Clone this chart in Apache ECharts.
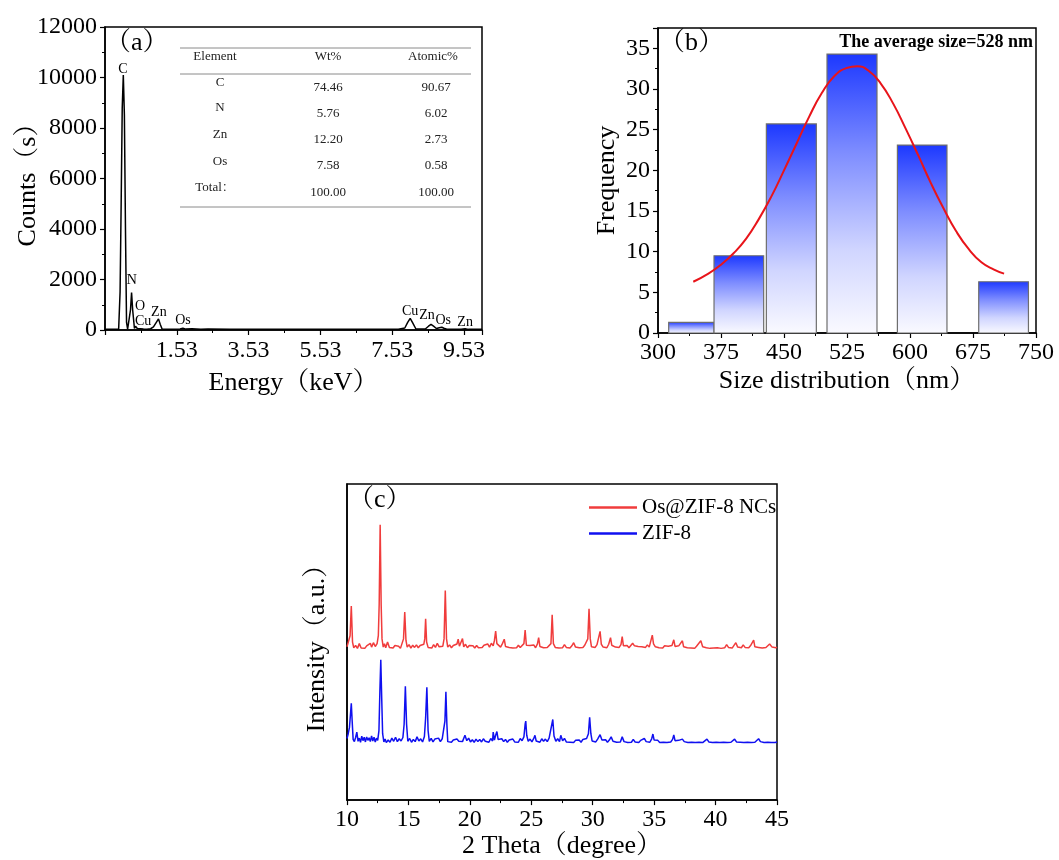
<!DOCTYPE html>
<html>
<head>
<meta charset="utf-8">
<script src="https://cdn.jsdelivr.net/npm/echarts@6/dist/echarts.min.js"></script>
<style>
html,body{margin:0;padding:0;background:#fff;}
#chart{width:1059px;height:860px;}
</style>
</head>
<body>
<div id="chart"></div>
<script>
// ---------------- DATA ----------------
// (a) EDS spectrum: [energy keV (as labelled on axis), counts]
const edsSpectrum = [
  [-0.45,30],[-0.2,25],[-0.09,30],[-0.05,1500],[-0.02,5000],[0.01,8800],[0.04,10100],[0.07,8500],[0.10,4000],[0.13,300],[0.16,30],
  [0.21,40],[0.24,800],[0.27,1480],[0.30,800],[0.35,60],[0.38,150],[0.43,60],[0.48,110],[0.52,50],[0.56,90],[0.60,40],[0.70,30],
  [0.80,50],[0.88,120],[0.95,280],[1.02,440],[1.07,220],[1.12,40],[1.3,30],[1.62,40],[1.70,70],[1.78,35],[1.95,45],[2.2,30],[2.4,35],
  [3.0,25],[4.0,25],[5.0,25],[6.0,25],[7.0,25],[7.7,30],[7.88,80],[7.96,300],[8.03,460],[8.10,280],[8.19,40],[8.45,40],[8.54,150],
  [8.61,220],[8.68,150],[8.76,60],[8.84,90],[8.91,110],[8.97,70],[9.05,30],[9.45,30],[9.56,50],[9.65,25],[10.03,25]
];
const edsAxisOffset = 0.47;          // axis tick labels read 1.53, 3.53, ...
const edsLabelNames  = ['C','N','O','Cu','Zn','Os','Cu','Zn','Os','Zn'];
const edsLabelEnergy = [0.03,0.28,0.505,0.59,1.03,1.70,8.03,8.50,8.95,9.56];
const edsLabelCounts = [10336,1980,950,356,713,396,752,594,396,317];

const tableHeader   = ['Element','Wt%','Atomic%'];
const tableElements = ['C','N','Zn','Os','Total：'];
const tableWt       = ['74.46','5.76','12.20','7.58','100.00'];
const tableAtomic   = ['90.67','6.02','2.73','0.58','100.00'];

// (b) size histogram
const binStart = [312.7,366.7,429,501.2,585,681.8];
const binEnd   = [366.7,425.8,488.5,560.7,644,741];
const binFreq  = [1.3,9.5,25.7,34.3,23.1,6.3];
const fitCurve = [
  [342,6.3],[360,7.3],[375,8.4],[390,9.8],[405,11.6],[420,14.0],[435,16.8],[450,20.0],[465,23.3],[480,26.6],[495,29.5],
  [510,31.6],[525,32.6],[537,32.8],[550,32.3],[565,30.7],[580,28.2],[595,25.1],[610,21.8],[625,18.4],[640,15.3],[655,12.5],
  [670,10.3],[685,8.7],[700,7.8],[712,7.3]
];
const averageText = 'The average size=528 nm';

// (c) XRD patterns [2theta, intensity a.u.]
const xrdOsZif = [
  [10.0,48.5],[10.15,49.0],[10.25,52],[10.35,61.4],[10.45,50],[10.55,48.2],[10.7,48.9],[10.85,48.0],[11.0,49.5],[11.15,48.1],[11.3,48.7],[11.45,48.0],[11.6,48.8],[11.75,48.2],[11.9,49.6],[12.0,48.4],[12.15,49.8],[12.3,48.6],[12.45,49.5],[12.55,52],[12.62,62],[12.7,87.1],[12.78,62],[12.85,51],[12.95,48.4],[13.05,49.5],[13.15,48.2],[13.3,50.0],[13.45,48.3],[13.6,48.8],[13.75,48.1],[13.9,48.9],[14.05,48.3],[14.2,48.7],[14.35,48.0],[14.5,48.6],[14.6,51],[14.7,59.5],[14.8,50.5],[14.9,48.4],[15.05,49.2],[15.2,48.1],[15.35,49.0],[15.5,48.3],[15.65,49.1],[15.8,48.2],[15.95,48.9],[16.1,48.4],[16.25,49.3],[16.33,51],[16.4,57.4],[16.48,50],[16.6,48.3],[16.75,48.9],[16.9,48.1],[17.05,49.2],[17.2,48.3],[17.35,49.6],[17.5,48.5],[17.65,49.0],[17.8,48.7],[17.9,51],[18.0,66.3],[18.1,51],[18.2,48.4],[18.35,49.1],[18.5,48.2],[18.65,48.9],[18.8,48.3],[18.95,49.4],[19.05,50.9],[19.15,48.7],[19.3,49.0],[19.4,51.1],[19.5,48.5],[19.65,49.3],[19.8,48.2],[19.95,48.9],[20.1,48.3],[20.25,48.8],[20.4,48.1],[20.55,48.9],[20.7,48.2],[20.85,48.7],[21.0,48.3],[21.15,49.0],[21.3,48.5],[21.45,49.4],[21.6,48.4],[21.75,49.6],[21.9,48.8],[22.0,50.5],[22.1,53.5],[22.2,49.5],[22.35,49.8],[22.5,48.4],[22.65,49.5],[22.8,50.9],[22.9,48.6],[23.05,49.1],[23.2,48.3],[23.35,48.8],[23.5,48.1],[23.65,48.7],[23.8,48.2],[23.95,49.0],[24.1,48.3],[24.25,48.8],[24.4,49.5],[24.5,53.8],[24.6,49],[24.75,48.4],[24.9,48.9],[25.05,48.3],[25.2,49.1],[25.35,48.2],[25.5,49.4],[25.6,51.4],[25.7,48.6],[25.85,48.9],[26.0,48.2],[26.15,48.8],[26.3,48.3],[26.45,48.9],[26.6,49.5],[26.7,58.6],[26.8,49.5],[26.95,48.3],[27.1,48.9],[27.25,48.1],[27.4,48.7],[27.55,48.2],[27.7,49.2],[27.85,48.3],[28.0,48.7],[28.15,48.1],[28.3,48.8],[28.45,49.8],[28.6,48.4],[28.75,48.9],[28.9,48.2],[29.05,48.8],[29.2,48.3],[29.35,49.0],[29.5,48.7],[29.6,51],[29.7,60.5],[29.8,51],[29.9,48.5],[30.05,49.0],[30.2,48.3],[30.35,49.2],[30.5,49.5],[30.6,53.4],[30.7,49.3],[30.85,48.4],[31.0,48.9],[31.15,48.2],[31.3,49.3],[31.45,51.4],[31.55,49.0],[31.7,49.6],[31.85,48.4],[32.0,49.0],[32.15,48.3],[32.3,49.2],[32.4,51.7],[32.5,48.8],[32.65,48.4],[32.8,48.9],[32.95,48.2],[33.1,48.7],[33.25,49.6],[33.4,48.8],[33.55,49.4],[33.7,48.6],[33.85,49.2],[34.0,48.5],[34.15,48.9],[34.3,48.3],[34.45,49.1],[34.6,48.4],[34.75,49.0],[34.85,52.2],[34.95,49.4],[35.1,48.5],[35.25,48.9],[35.4,48.2],[35.55,48.7],[35.7,48.1],[35.85,48.8],[36.0,48.3],[36.15,48.7],[36.3,48.2],[36.45,48.9],[36.6,50.7],[36.7,48.6],[36.85,48.3],[37.0,48.8],[37.15,48.2],[37.3,50.4],[37.4,48.5],[37.55,48.9],[37.7,48.2],[37.85,48.7],[38.0,48.1],[38.15,48.6],[38.3,48.0],[38.45,48.7],[38.6,48.3],[38.8,50.4],[38.95,48.5],[39.1,48.9],[39.25,48.2],[39.4,48.6],[39.55,48.0],[39.7,48.5],[39.85,48.1],[40.0,48.7],[40.15,48.2],[40.3,48.6],[40.45,48.0],[40.6,48.5],[40.75,48.2],[40.9,49.2],[41.05,48.3],[41.2,48.7],[41.35,48.1],[41.5,48.6],[41.65,49.8],[41.8,48.4],[41.95,48.8],[42.1,48.2],[42.25,49.1],[42.4,48.3],[42.55,48.8],[42.7,48.2],[42.85,48.9],[43.0,49.2],[43.1,50.6],[43.2,48.5],[43.35,49.0],[43.5,48.3],[43.65,48.7],[43.8,48.1],[43.95,48.6],[44.1,48.3],[44.25,48.9],[44.4,49.4],[44.5,50.0],[44.6,48.4],[44.75,48.7],[44.9,48.2],[45.0,48.4]
];
const xrdZif = [
  [10.0,19.5],[10.1,21.0],[10.2,23],[10.3,28],[10.35,30.6],[10.42,25],[10.5,19.2],[10.6,18.5],[10.7,19.8],[10.8,21.5],[10.9,18.6],[11.0,19.6],[11.1,18.3],[11.2,20.2],[11.3,18.8],[11.4,19.9],[11.5,18.4],[11.6,20.0],[11.7,18.9],[11.8,19.7],[11.9,18.5],[12.0,20.3],[12.1,18.7],[12.2,19.9],[12.3,18.4],[12.4,19.6],[12.5,18.9],[12.6,22],[12.68,35],[12.75,44.4],[12.82,33],[12.9,21],[13.0,18.4],[13.1,19.3],[13.2,18.2],[13.35,19.0],[13.5,18.3],[13.65,19.6],[13.8,18.6],[13.95,19.9],[14.1,18.5],[14.25,19.4],[14.4,18.7],[14.55,19.8],[14.65,24],[14.75,36.0],[14.85,24],[14.95,18.6],[15.1,19.5],[15.25,18.3],[15.4,19.2],[15.55,18.5],[15.7,20.0],[15.85,18.7],[16.0,19.4],[16.15,18.4],[16.3,20.1],[16.4,26],[16.5,35.7],[16.6,22],[16.7,18.6],[16.85,19.5],[17.0,18.4],[17.15,19.3],[17.3,18.8],[17.45,19.6],[17.6,18.5],[17.75,19.4],[17.9,18.9],[17.97,25],[18.05,34.3],[18.13,24],[18.2,18.5],[18.35,19.1],[18.5,18.3],[18.65,19.0],[18.8,18.4],[18.95,19.3],[19.1,18.6],[19.25,19.2],[19.4,18.5],[19.6,20.5],[19.75,18.8],[19.9,19.6],[20.05,18.4],[20.2,19.1],[20.35,18.3],[20.5,19.3],[20.65,18.5],[20.8,19.2],[20.95,18.4],[21.1,19.4],[21.25,18.6],[21.4,19.1],[21.55,18.3],[21.7,19.5],[21.85,18.7],[21.9,21.5],[22.0,19.0],[22.1,20.5],[22.2,21.7],[22.3,19.2],[22.45,18.8],[22.6,19.4],[22.75,18.5],[22.9,19.2],[23.05,18.3],[23.2,19.0],[23.35,18.5],[23.5,19.3],[23.65,18.4],[23.8,18.9],[23.95,18.3],[24.1,19.5],[24.25,18.8],[24.4,20.0],[24.5,24],[24.55,25.0],[24.63,20.5],[24.75,18.6],[24.9,19.3],[25.05,18.4],[25.2,19.5],[25.3,20.5],[25.4,18.7],[25.55,19.2],[25.7,18.3],[25.85,19.4],[26.0,18.6],[26.15,19.3],[26.3,18.5],[26.45,19.6],[26.6,20.2],[26.75,25.5],[26.85,20.3],[27.0,18.6],[27.15,19.4],[27.3,18.5],[27.4,20.5],[27.55,18.8],[27.7,19.5],[27.85,18.4],[28.0,18.9],[28.15,18.3],[28.3,18.8],[28.45,18.2],[28.6,18.9],[28.75,18.4],[28.9,19.0],[29.05,18.3],[29.2,19.2],[29.35,18.6],[29.5,19.5],[29.65,21],[29.75,26.2],[29.85,21],[29.95,18.7],[30.1,19.2],[30.25,18.4],[30.4,19.3],[30.6,20.7],[30.75,19.0],[30.9,18.5],[31.05,19.1],[31.2,18.3],[31.35,19.0],[31.5,20.0],[31.65,18.6],[31.8,19.0],[31.95,18.3],[32.1,18.9],[32.25,18.4],[32.4,20.0],[32.55,18.5],[32.7,18.9],[32.85,18.2],[33.0,18.8],[33.15,18.3],[33.3,19.2],[33.45,18.4],[33.6,18.8],[33.75,18.2],[33.9,18.9],[34.05,18.4],[34.2,19.5],[34.35,18.5],[34.5,18.9],[34.65,18.3],[34.8,19.4],[34.9,20.9],[35.0,19.0],[35.15,18.4],[35.3,18.9],[35.45,18.2],[35.6,18.8],[35.75,18.3],[35.9,18.7],[36.05,18.2],[36.2,18.8],[36.35,18.4],[36.5,19.2],[36.6,20.6],[36.7,18.8],[36.85,18.4],[37.0,18.9],[37.15,18.3],[37.3,19.3],[37.45,18.5],[37.6,18.9],[37.75,18.2],[37.9,18.7],[38.05,18.3],[38.2,18.8],[38.35,18.2],[38.5,18.7],[38.65,18.3],[38.8,18.9],[38.95,18.2],[39.1,18.7],[39.3,19.3],[39.45,18.4],[39.6,18.8],[39.75,18.2],[39.9,18.7],[40.05,18.3],[40.2,18.9],[40.35,18.2],[40.5,18.6],[40.65,18.3],[40.8,18.8],[40.95,18.2],[41.1,18.7],[41.25,18.3],[41.4,18.9],[41.55,19.3],[41.7,18.4],[41.85,18.9],[42.0,18.3],[42.15,18.8],[42.3,18.2],[42.45,18.7],[42.6,18.3],[42.75,18.8],[42.9,18.2],[43.05,18.7],[43.2,18.3],[43.35,18.9],[43.5,19.4],[43.65,18.5],[43.8,18.8],[43.95,18.2],[44.1,18.7],[44.25,18.3],[44.4,18.8],[44.55,18.2],[44.7,18.6],[44.85,18.2],[45.0,18.4]
];
const seriesNames = ['Os@ZIF-8 NCs','ZIF-8'];

// ---------------- CHART ----------------
const SERIF = "'Liberation Serif','Times New Roman','Noto Serif CJK SC','Noto Sans CJK SC',serif";
const chart = echarts.init(document.getElementById('chart'), null, {renderer:'canvas'});

function axisBase(extra){
  return Object.assign({
    splitLine:{show:false},
    axisLine:{show:true, onZero:false, lineStyle:{color:'#000', width:1.5}},
    axisTick:{show:true, inside:false, length:5, lineStyle:{color:'#000', width:1.2}},
    minorTick:{show:true, splitNumber:2, length:3, lineStyle:{color:'#000', width:1}},
    axisLabel:{color:'#000', fontSize:24, fontFamily:SERIF, margin:8},
    nameTextStyle:{color:'#000', fontSize:26, fontFamily:SERIF},
    nameLocation:'middle'
  }, extra);
}

// table graphic
const tableGraphics = [];
const tblX1 = 180, tblX2 = 471;
[48,74,207].forEach(y => tableGraphics.push({type:'line', shape:{x1:tblX1,y1:y,x2:tblX2,y2:y}, style:{stroke:'#8a8a8a', lineWidth:1}}));
const colX = [215, 328, 433];
const txtStyle = (t,x,y)=>({type:'text', x:x, y:y, style:{text:t, fill:'#222', font:"13px "+SERIF, textAlign:'center', textVerticalAlign:'middle'}});
tableHeader.forEach((h,i)=>tableGraphics.push(txtStyle(h, colX[i], 57)));
const rowYEl = [83,108,135,162,188], rowYVal = [88,114,140,166,193];
tableElements.forEach((e,i)=>{
  tableGraphics.push(txtStyle(e, i===4?215:220, rowYEl[i]));
  tableGraphics.push(txtStyle(tableWt[i], 328, rowYVal[i]));
  tableGraphics.push(txtStyle(tableAtomic[i], 436, rowYVal[i]));
});

const panelLabels = [
  {type:'text', x:105, y:43, style:{text:'（a）', fill:'#000', font:"26px "+SERIF, textVerticalAlign:'middle'}},
  {type:'text', x:659, y:43, style:{text:'（b）', fill:'#000', font:"26px "+SERIF, textVerticalAlign:'middle'}},
  {type:'text', x:348, y:500, style:{text:'（c）', fill:'#000', font:"26px "+SERIF, textVerticalAlign:'middle'}},
  {type:'text', x:1033, y:42, style:{text:averageText, fill:'#000', font:"bold 18px "+SERIF, textAlign:'right', textVerticalAlign:'middle'}}
];

const barGradient = new echarts.graphic.LinearGradient(0,0,0,1,[
  {offset:0, color:'#1c38ff'},{offset:0.35, color:'#7d8cff'},{offset:0.7, color:'#d0d5ff'},{offset:1, color:'#fafaff'}
]);

const option = {
  backgroundColor:'#fff',
  animation:false,
  grid:[
    {left:105, top:27, width:377, height:303, show:true, borderColor:'#000', borderWidth:1.5, containLabel:false},
    {left:658, top:28, width:378, height:305, show:true, borderColor:'#000', borderWidth:1.5, containLabel:false},
    {left:347, top:484, width:430, height:318, show:true, borderColor:'#000', borderWidth:1.5, containLabel:false}
  ],
  xAxis:[
    axisBase({gridIndex:0, type:'value', min:0, max:10.5, interval:2,
      name:'Energy（keV）', nameGap:40,
      axisLabel:{color:'#000', fontSize:24, fontFamily:SERIF, margin:9, showMinLabel:false, showMaxLabel:false,
        formatter:v=>(v-edsAxisOffset).toFixed(2)}}),
    axisBase({gridIndex:1, type:'value', min:300, max:750, interval:75,
      name:'Size distribution（nm）', nameGap:35}),
    axisBase({gridIndex:2, type:'value', min:10, max:45, interval:5,
      name:'2 Theta（degree）', nameGap:32})
  ],
  yAxis:[
    axisBase({gridIndex:0, type:'value', min:0, max:12000, interval:2000,
      name:'Counts（s）', nameGap:64, nameMoveOverlap:false,
      axisLabel:{color:'#000', fontSize:24, fontFamily:SERIF, margin:8, formatter:v=>String(v)}}),
    axisBase({gridIndex:1, type:'value', min:0, max:37.5, interval:5,
      name:'Frequency', nameGap:38,
      axisLabel:{color:'#000', fontSize:24, fontFamily:SERIF, margin:8, showMaxLabel:false}}),
    axisBase({gridIndex:2, type:'value', min:0, max:100,
      name:'Intensity（a.u.）', nameGap:17,
      axisTick:{show:false}, minorTick:{show:false}, axisLabel:{show:false}})
  ],
  legend:{
    data:seriesNames, left:584, top:492, orient:'vertical', icon:'rect', itemWidth:48, itemHeight:2.5, itemGap:5,
    textStyle:{color:'#000', fontSize:21, fontFamily:SERIF}, itemTextGap:2
  },
  graphic: tableGraphics.concat(panelLabels),
  series:[
    {type:'line', xAxisIndex:0, yAxisIndex:0, showSymbol:false, silent:true,
      lineStyle:{color:'#000', width:1.5}, data: edsSpectrum.map(p=>[p[0]+edsAxisOffset, p[1]])},
    {type:'custom', xAxisIndex:0, yAxisIndex:0, silent:true,
      data: edsLabelEnergy.map((e,i)=>[e+edsAxisOffset, edsLabelCounts[i]]),
      renderItem:(params, api)=>{
        const c = api.coord([api.value(0), api.value(1)]);
        return {type:'text', x:c[0], y:c[1], style:{text:edsLabelNames[params.dataIndex], fill:'#000', font:"14px "+SERIF, textAlign:'center', textVerticalAlign:'middle'}};
      }},
    {type:'custom', xAxisIndex:1, yAxisIndex:1, silent:true,
      encode:{x:[0,1], y:2},
      data: binFreq.map((f,i)=>[binStart[i], binEnd[i], f]),
      renderItem:(params, api)=>{
        const p0 = api.coord([api.value(0), 0]);
        const p1 = api.coord([api.value(1), api.value(2)]);
        return {type:'rect', shape:{x:p0[0], y:p1[1], width:p1[0]-p0[0], height:p0[1]-p1[1]},
          style:{fill:barGradient, stroke:'#6e6e6e', lineWidth:1.2}};
      }},
    {type:'line', xAxisIndex:1, yAxisIndex:1, smooth:true, showSymbol:false, silent:true,
      lineStyle:{color:'#e8141a', width:2}, data:fitCurve},
    {name:seriesNames[0], type:'line', xAxisIndex:2, yAxisIndex:2, showSymbol:false, silent:true,
      itemStyle:{color:'#f03c3c'}, lineStyle:{color:'#f03c3c', width:1.5}, data:xrdOsZif},
    {name:seriesNames[1], type:'line', xAxisIndex:2, yAxisIndex:2, showSymbol:false, silent:true,
      itemStyle:{color:'#1010f0'}, lineStyle:{color:'#1010f0', width:1.5}, data:xrdZif}
  ]
};
chart.setOption(option);
</script>
</body>
</html>
